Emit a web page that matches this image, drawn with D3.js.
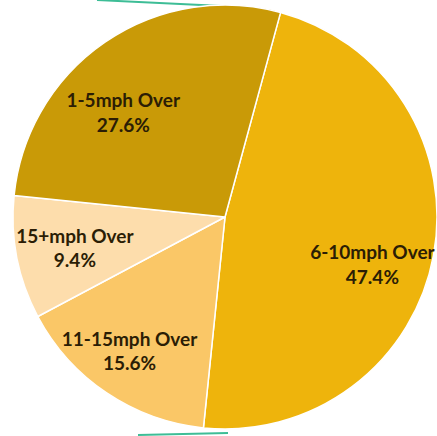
<!DOCTYPE html>
<html>
<head>
<meta charset="utf-8">
<script src="https://cdn.jsdelivr.net/npm/d3@7"></script>
<style>
  html, body { margin: 0; padding: 0; background: #fff; }
  svg { display: block; }
  .lbl { font-family: Lato, "Open Sans", sans-serif; font-weight: bold; fill: #2b1d05; }
</style>
</head>
<body>
<div id="container"></div>
<script>
const WIDTH = 437, HEIGHT = 436;

// DATA
const categories = ["6-10mph Over", "11-15mph Over", "15+mph Over", "1-5mph Over"];
const shares = [47.4, 15.6, 9.4, 27.6];
const sliceColors = ["#EEB40C", "#FAC767", "#FDDDAC", "#C99A07"];

// label nudges so labels sit where excel put them (px, relative to centroid)
const labelNudge = [[-5, 21], [-9, 7], [2, 3], [-14, 25]];

let svg = d3.select("#container").append("svg")
  .attr("width", WIDTH)
  .attr("height", HEIGHT);

// stray teal connector lines cut off by the crop
svg.append("line")
  .attr("x1", 97).attr("y1", 0).attr("x2", 222).attr("y2", 6)
  .attr("stroke", "#3dbd96").attr("stroke-width", 2);
svg.append("line")
  .attr("x1", 138).attr("y1", 435).attr("x2", 228).attr("y2", 433)
  .attr("stroke", "#3dbd96").attr("stroke-width", 2);

const cx = 225, cy = 217, radius = 212;
const startDeg = 15.2;

let pie = d3.pie()
  .sort(null)
  .value(d => d)
  .startAngle(startDeg * Math.PI / 180)
  .endAngle((startDeg + 360) * Math.PI / 180);

let arc = d3.arc().innerRadius(0).outerRadius(radius);
let labelArc = d3.arc().innerRadius(155).outerRadius(155);

let g = svg.append("g").attr("transform", `translate(${cx},${cy})`);

let arcs = pie(shares);

g.selectAll("path")
  .data(arcs)
  .enter()
  .append("path")
  .attr("d", arc)
  .attr("fill", (d, i) => sliceColors[i])
  .attr("stroke", "#fff")
  .attr("stroke-width", 1.5)
  .attr("stroke-linejoin", "round");

let labels = g.selectAll(".lbl")
  .data(arcs)
  .enter()
  .append("text")
  .attr("class", "lbl")
  .attr("text-anchor", "middle")
  .attr("font-size", 19)
  .attr("transform", (d, i) => {
    let c = labelArc.centroid(d);
    return `translate(${c[0] + labelNudge[i][0]},${c[1] + labelNudge[i][1]})`;
  });

labels.append("tspan")
  .attr("x", 0)
  .attr("y", -7)
  .text((d, i) => categories[i]);

labels.append("tspan")
  .attr("x", 0)
  .attr("y", 17.5)
  .text(d => d.data.toFixed(1) + "%");
</script>
</body>
</html>
